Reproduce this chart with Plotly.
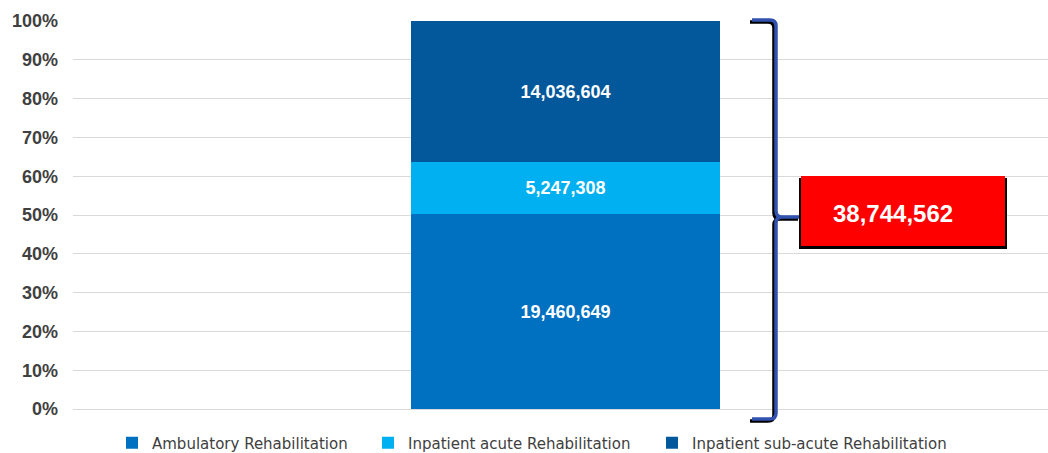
import plotly.graph_objects as go

# Rehabilitation spending by setting
categories = ["Rehabilitation"]
series_names = [
    "Ambulatory Rehabilitation",
    "Inpatient acute Rehabilitation",
    "Inpatient sub-acute Rehabilitation",
]
series_values = [19460649, 5247308, 14036604]
series_colors = ["#0070C0", "#00B0F0", "#03589B"]
total_value = 38744562
y_tick_values = [0, 0.1, 0.2, 0.3, 0.4, 0.5, 0.6, 0.7, 0.8, 0.9, 1.0]
y_tick_labels = ["0%", "10%", "20%", "30%", "40%", "50%", "60%", "70%", "80%", "90%", "100%"]

W, H = 1048, 453
ML, MR, MT, MB = 73, 0, 21, 44
PW, PH = W - ML - MR, H - MT - MB


def px(x):
    """Horizontal pixel position -> paper fraction."""
    return (x - ML) / PW


def py(y):
    """Vertical pixel position -> paper fraction."""
    return (H - MB - y) / PH


fig = go.Figure()
bar_x = 0.505
legend_ids = ["legend", "legend2", "legend3"]
for name, val, col, lid in zip(series_names, series_values, series_colors, legend_ids):
    fig.add_trace(go.Bar(
        x=[bar_x],
        y=[val / total_value],
        width=0.317,
        name=name,
        marker=dict(color=col, line=dict(width=0)),
        text=[f"{val:,}"],
        textposition="inside",
        insidetextanchor="middle",
        textangle=0,
        textfont=dict(family="Liberation Sans", size=18, color="white", weight="bold"),
        hovertext=categories,
        legend=lid,
    ))

shapes = []


def brace_path(dx=0, dy=0):
    def p(x, y):
        return f"{px(x + dx):.5f},{py(y + dy):.5f}"
    top = (f"M {p(752, 20)} L {p(770, 20)} Q {p(776, 20)} {p(776, 26)} "
           f"L {p(776, 211)} Q {p(776, 217)} {p(782, 217)} L {p(800, 217)}")
    bot = (f"M {p(782, 217)} Q {p(776, 217)} {p(776, 223)} "
           f"L {p(776, 413)} Q {p(776, 419)} {p(770, 419)} L {p(752, 419)}")
    return top + " " + bot


# brace with drop shadow
shapes.append(dict(type="path", xref="paper", yref="paper", path=brace_path(-2, 2),
                   line=dict(color="black", width=3.5)))
shapes.append(dict(type="path", xref="paper", yref="paper", path=brace_path(),
                   line=dict(color="#3152AE", width=3.5)))
# total callout box with drop shadow
shapes.append(dict(type="rect", xref="paper", yref="paper",
                   x0=px(799), x1=px(1007), y0=py(249), y1=py(178),
                   fillcolor="black", line=dict(width=0), layer="above"))
shapes.append(dict(type="rect", xref="paper", yref="paper",
                   x0=px(801), x1=px(1005), y0=py(246), y1=py(176),
                   fillcolor="#FF0000", line=dict(width=0), layer="above"))

annotations = [dict(
    xref="paper", yref="paper", x=px(893), y=py(213),
    text=f"<b>{total_value:,}</b>", showarrow=False,
    font=dict(family="Liberation Sans", size=24, color="white"),
    xanchor="center", yanchor="middle",
)]

legend_font = dict(family="DejaVu Sans", size=15, color="#404040")
legend_common = dict(orientation="h", font=legend_font, bgcolor="rgba(0,0,0,0)",
                     yanchor="middle", xanchor="left", y=py(443),
                     itemwidth=30, traceorder="normal")

fig.update_layout(
    width=W, height=H,
    margin=dict(l=ML, r=MR, t=MT, b=MB, pad=0, autoexpand=False),
    paper_bgcolor="white", plot_bgcolor="white",
    barmode="stack",
    bargap=0,
    showlegend=True,
    xaxis=dict(range=[0, 1], showgrid=False, zeroline=False, showticklabels=False,
               showline=False, fixedrange=True),
    yaxis=dict(range=[0, 1], tickvals=y_tick_values, ticktext=y_tick_labels,
               showgrid=True, gridcolor="#D9D9D9", gridwidth=1,
               zeroline=True, zerolinecolor="#D9D9D9", zerolinewidth=1,
               showline=False, ticks="", ticklabelstandoff=14,
               tickfont=dict(family="Liberation Sans", size=18, color="#404040", weight="bold")),
    legend=dict(x=px(112), **legend_common),
    legend2=dict(x=px(368), **legend_common),
    legend3=dict(x=px(652), **legend_common),
    shapes=shapes,
    annotations=annotations,
    uniformtext=dict(minsize=8, mode="show"),
)

fig.write_html("out.html")
